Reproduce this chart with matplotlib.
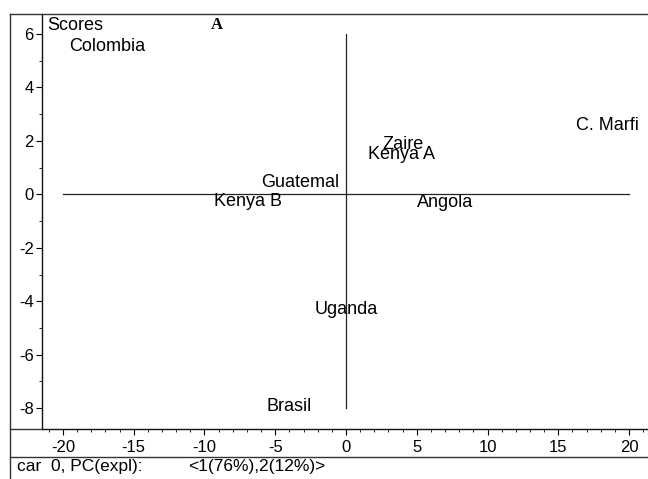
import matplotlib.pyplot as plt
from matplotlib.lines import Line2D
from matplotlib.ticker import MultipleLocator

plt.rcParams['font.family'] = ['Liberation Sans', 'DejaVu Sans']
plt.rcParams['axes.unicode_minus'] = False

# PCA scores (PC1, PC2)
samples = ['Colombia', 'Guatemal', 'Kenya B', 'Zaire', 'Kenya A',
           'C. Marfi', 'Angola', 'Uganda', 'Brasil']
pc1 = [-16.9, -3.25, -6.9, 4.0, 3.95, 18.45, 7.0, 0.0, -4.0]
pc2 = [5.52, 0.46, -0.25, 1.88, 1.5, 2.56, -0.29, -4.29, -7.92]

W, H = 648, 479
fig = plt.figure(figsize=(W / 100, H / 100), dpi=100)

# main score plot area (pixel based placement)
left, right, top, bottom = 42, 648, 14, 429
ax = fig.add_axes([left / W, 1 - bottom / H, (right - left) / W, (bottom - top) / H])
ax.set_xlim(-21.48, 21.34)
ax.set_ylim(-8.78, 6.75)

for s in ['top', 'right']:
    ax.spines[s].set_visible(False)
for s in ['left', 'bottom']:
    ax.spines[s].set_linewidth(1.0)
    ax.spines[s].set_color('#111111')

ax.xaxis.set_major_locator(MultipleLocator(5))
ax.xaxis.set_minor_locator(MultipleLocator(1))
ax.yaxis.set_major_locator(MultipleLocator(2))
ax.yaxis.set_minor_locator(MultipleLocator(1))
ax.tick_params(axis='both', which='major', length=4, width=0.8, labelsize=12, pad=2)
ax.tick_params(axis='both', which='minor', length=2, width=0.6)
ax.tick_params(axis='x', pad=4)
ax.set_xticks([-20, -15, -10, -5, 0, 5, 10, 15, 20])
ax.set_yticks([-8, -6, -4, -2, 0, 2, 4, 6])

# zero axes
ax.plot([-20, 20], [0, 0], color='#222222', lw=0.9)
ax.plot([0, 0], [-8, 6], color='#222222', lw=0.9)

for name, x, y in zip(samples, pc1, pc2):
    ax.text(x, y, name, ha='center', va='center', fontsize=13)

fig.text(47 / W, 1 - 25 / H, 'Scores', ha='left', va='center', fontsize=13)
fig.text(217 / W, 1 - 25 / H, 'A', family='Liberation Serif', weight='bold',
         fontsize=12, ha='center', va='center')

# outer frame lines
def px_line(x0, y0, x1, y1, **kw):
    fig.add_artist(Line2D([x0 / W, x1 / W], [1 - y0 / H, 1 - y1 / H],
                          transform=fig.transFigure, color='#333333', lw=1.0, **kw))

px_line(10, 14, W, 14)
px_line(10, 14, 10, H)
px_line(10, bottom, left, bottom)
px_line(10, 457, W, 457)

fig.text(17 / W, 1 - 467 / H, 'car  0, PC(expl):', fontsize=12.5, ha='left', va='center')
fig.text(188 / W, 1 - 467 / H, '<1(76%),2(12%)>', fontsize=12.5, ha='left', va='center')

fig.savefig('out.png', dpi=100)
